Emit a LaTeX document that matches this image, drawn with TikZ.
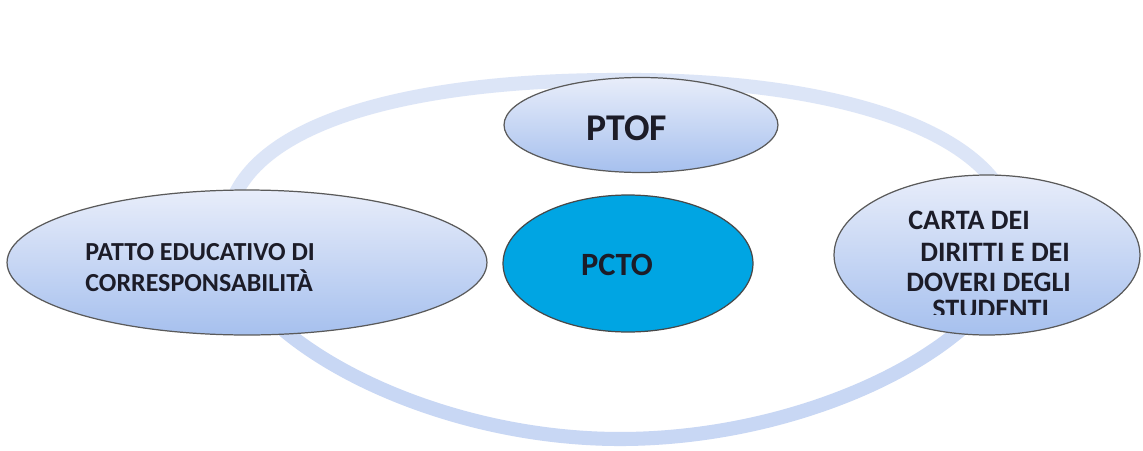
\documentclass[tikz,border=0pt]{standalone}
\usepackage{fontspec}
\setmainfont{Carlito}
\usetikzlibrary{shapes.geometric,shadings}
\definecolor{ringtop}{HTML}{DCE5F7}
\definecolor{ringbot}{HTML}{C8D7F4}
\definecolor{elltop}{HTML}{E8EDFA}
\definecolor{ellbot}{HTML}{A6C0EE}
\definecolor{pctoc}{HTML}{00A5E3}
\definecolor{edge}{HTML}{5A5A5A}
\definecolor{txt}{HTML}{1C1C28}
\tikzset{
  ring/.style={draw=#1, line width=8pt},
  ell/.style={ellipse, draw=edge, line width=0.7pt, inner sep=0pt, outer sep=0pt, top color=elltop, bottom color=ellbot},
  core/.style={ellipse, draw=edge!80!black, line width=0.7pt, inner sep=0pt, outer sep=0pt, fill=pctoc},
  lbl/.style={inner sep=0pt, text=txt, font=\bfseries\fontsize{#1}{#1}\selectfont},
}
\newcommand{\ringpath}{(615,80) .. controls (830,78) and (1015,130) .. (1015,240)
  .. controls (1012,335) and (820,439) .. (620,439)
  .. controls (420,439) and (226,330) .. (226,235)
  .. controls (226,120) and (420,80) .. (615,80) -- cycle}
\begin{document}
\begin{tikzpicture}[x=0.02cm, y=-0.02cm]
\useasboundingbox (0,0) rectangle (1143,450);
\fill[white] (0,0) rectangle (1143,450);
% decorative ring: lighter upper half, stronger lower half
\begin{scope}
\clip (0,0) rectangle (1143,260);
\draw[ring=ringtop] \ringpath;
\end{scope}
\begin{scope}
\clip (0,260) rectangle (1143,450);
\draw[ring=ringbot] \ringpath;
\end{scope}
% ellipses
\node[ell, minimum width=5.48cm, minimum height=1.9cm] (ptof) at (641,125) {};
\node[core, minimum width=5.0cm, minimum height=2.74cm] (pcto) at (628,263.5) {};
\node[ell, minimum width=9.6cm, minimum height=2.9cm] (patto) at (247,262.5) {};
\node[ell, minimum width=6.12cm, minimum height=3.2cm] (carta) at (987,255) {};
% labels
\node[lbl=21.5, anchor=base] (ptoft) at (627,140.5) {PTOF};
\node[lbl=18.5, anchor=base] (pctot) at (617,275) {PCTO};
\node[lbl=14.8, anchor=base west] (patto1) at (85,260.5) {PATTO EDUCATIVO DI};
\node[lbl=14.8, anchor=base west] (patto2) at (85,291) {CORRESPONSABILITÀ};
\node[lbl=16, anchor=base west] (carta1) at (908,229.5) {CARTA DEI};
\node[lbl=16, anchor=base west] (carta2) at (920,261) {DIRITTI E DEI};
\node[lbl=16, anchor=base west] (carta3) at (906,291.5) {DOVERI DEGLI};
\begin{scope}
\clip (880,290) rectangle (1100,314);
\node[lbl=16, anchor=base west] (carta4) at (932,318) {STUDENTI};
\end{scope}
\end{tikzpicture}
\end{document}
